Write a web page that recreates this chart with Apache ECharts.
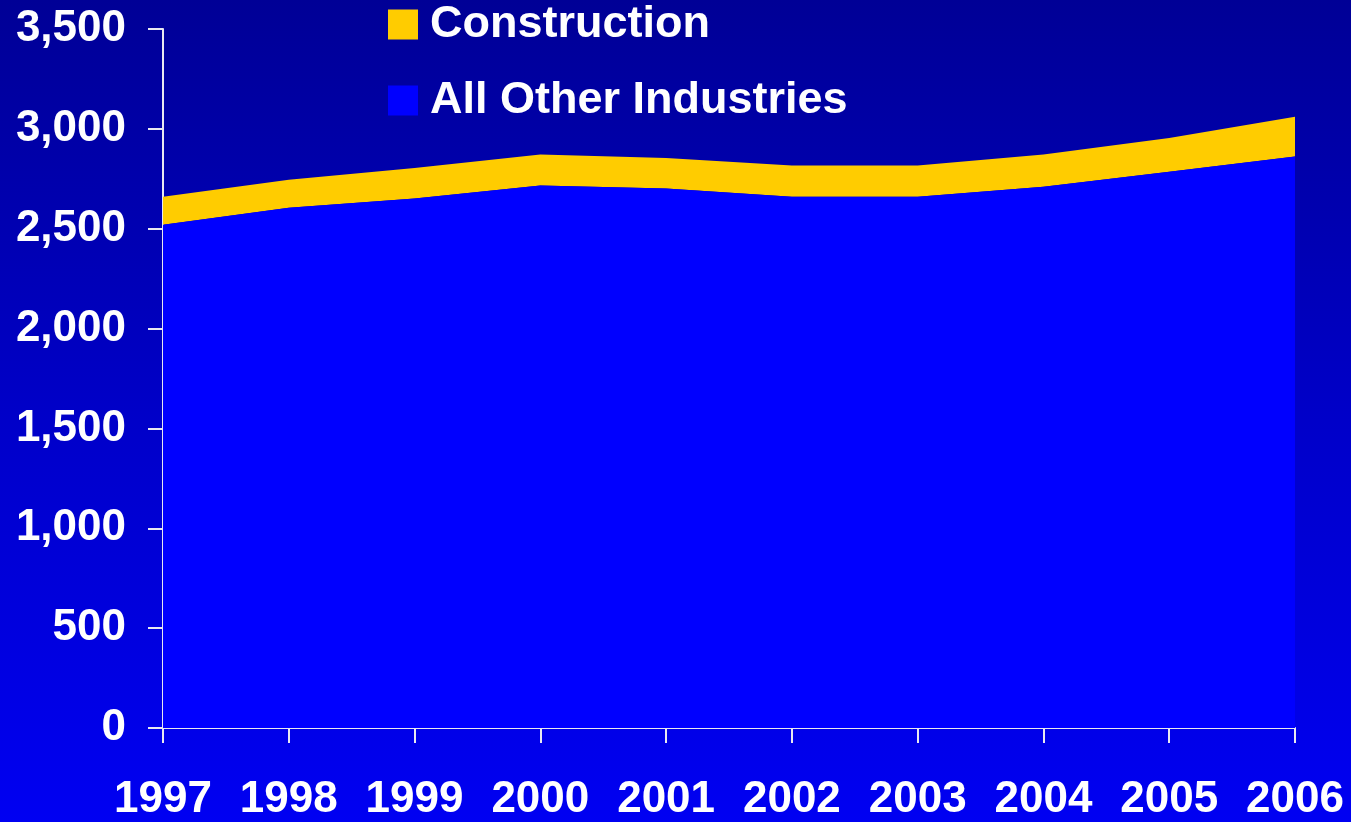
<!DOCTYPE html>
<html>
<head>
<meta charset="utf-8">
<script src="https://cdn.jsdelivr.net/npm/echarts@6/dist/echarts.min.js"></script>
<style>
html,body{margin:0;padding:0;width:1351px;height:822px;overflow:hidden;}
#c{width:1351px;height:822px;background:linear-gradient(to bottom,#000096 0%,#0000c8 50%,#0000f2 100%);}
</style>
</head>
<body>
<div id="c"></div>
<script>
const years = ['1997','1998','1999','2000','2001','2002','2003','2004','2005','2006'];
const otherIndustries = [2520, 2605, 2651, 2716, 2701, 2660, 2660, 2710, 2785, 2862];
const construction = [140, 140, 153, 155, 153, 156, 156, 161, 169, 199];
const yTicks = [0, 500, 1000, 1500, 2000, 2500, 3000, 3500];

const chart = echarts.init(document.getElementById('c'), null, {renderer:'canvas'});
const font = '"Liberation Sans", Arial, sans-serif';
chart.setOption({
  backgroundColor: 'transparent',
  animation: false,
  grid: {left:163, right:56, top:29, bottom:92, containLabel:false},
  legend: {
    data: ['Construction','All Other Industries'],
    orient: 'vertical', left: 388, top: 2, padding: 0,
    itemWidth: 30, itemHeight: 30, itemGap: 31, icon: 'rect',
    textStyle: {color:'#ffffff', fontFamily: font, fontWeight:'bold', fontSize:45, padding:[0,0,0,7]}
  },
  xAxis: {
    type: 'category', data: years, boundaryGap: false,
    axisLine: {lineStyle:{color:'#e8e8f0', width:2}},
    axisTick: {show:true, length:15, alignWithLabel:true, lineStyle:{color:'#e8e8f0', width:2}},
    axisLabel: {color:'#ffffff', fontFamily: font, fontWeight:'bold', fontSize:44, margin:50, interval:0},
    splitLine: {show:false}
  },
  yAxis: {
    type: 'value', min: yTicks[0], max: yTicks[yTicks.length-1], interval: 500,
    axisLine: {show:true, lineStyle:{color:'#e8e8f0', width:2}},
    axisTick: {show:true, length:15, lineStyle:{color:'#e8e8f0', width:2}},
    axisLabel: {color:'#ffffff', fontFamily: font, fontWeight:'bold', fontSize:44, margin:37,
      formatter: v => v.toLocaleString('en-US')},
    splitLine: {show:false}
  },
  series: [
    {
      name: 'All Other Industries', type: 'line', stack: 'total', data: otherIndustries,
      showSymbol: false, symbol: 'none',
      lineStyle: {width:0}, itemStyle: {color:'#0000ff'},
      areaStyle: {color:'#0000ff', opacity:1}, z: 2
    },
    {
      name: 'Construction', type: 'line', stack: 'total', data: construction,
      showSymbol: false, symbol: 'none',
      lineStyle: {width:0}, itemStyle: {color:'#ffcc00'},
      areaStyle: {color:'#ffcc00', opacity:1}, z: 1
    }
  ]
});
</script>
</body>
</html>
